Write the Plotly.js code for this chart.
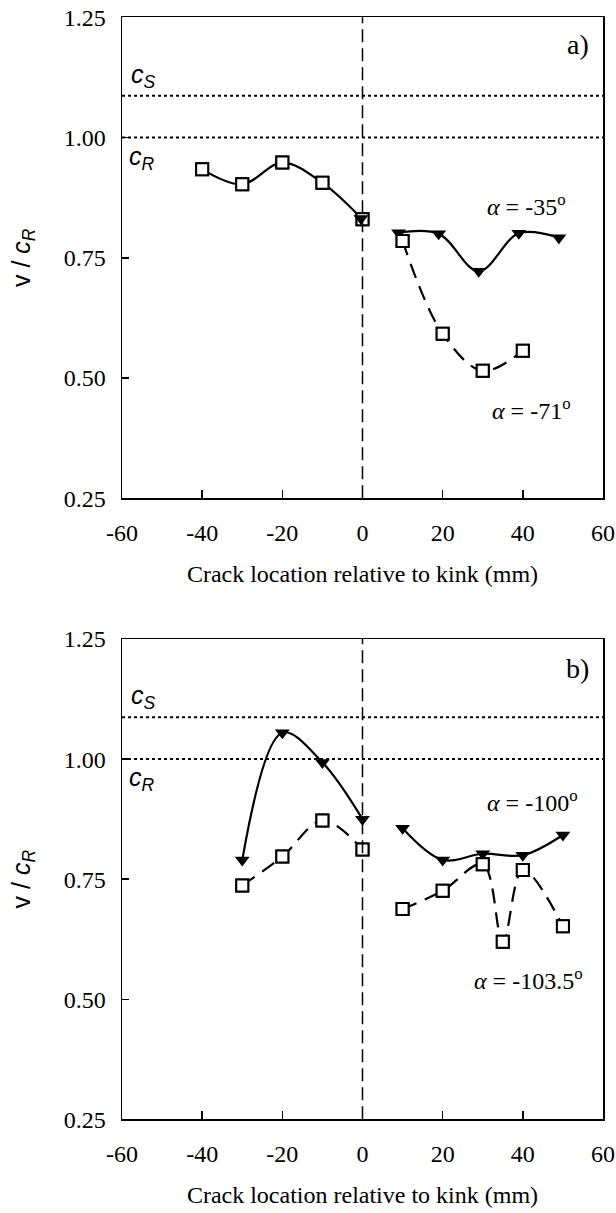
<!DOCTYPE html>
<html>
<head>
<meta charset="utf-8">
<script src="https://cdn.plot.ly/plotly-3.0.1.min.js"></script>
<style>html,body{margin:0;padding:0;background:#fff;}#chart{width:616px;height:1213px;}</style>
</head>
<body>
<div id="chart"></div>
<script>
// ---- Panel a) ----
const aLeftX = [-40, -30, -20, -10, 0];
const aLeftY = [0.934, 0.903, 0.948, 0.906, 0.830];
const a71X = [10, 20, 30, 40];
const a71Y = [0.785, 0.592, 0.515, 0.557];
const a35X = [9, 19, 29, 39, 49];
const a35Y = [0.802, 0.800, 0.722, 0.801, 0.792];
const aKinkTriX = [-0.4];
const aKinkTriY = [0.832];

// ---- Panel b) ----
const bTriLeftX = [-30, -20, -10, 0];
const bTriLeftY = [0.790, 1.055, 0.993, 0.875];
const b100X = [10, 20, 30, 40, 50];
const b100Y = [0.856, 0.790, 0.803, 0.800, 0.842];
const bSqLeftX = [-30, -20, -10, 0];
const bSqLeftY = [0.737, 0.797, 0.872, 0.812];
const b1035X = [10, 20, 30, 35, 40, 50];
const b1035Y = [0.688, 0.726, 0.781, 0.620, 0.769, 0.652];

// reference speed levels
const levelVals = [1.087, 1.0];
const levelLabels = ['<i>c<sub>S</sub></i>', '<i>c<sub>R</sub></i>'];

const xTickVals = [-60, -40, -20, 0, 20, 40, 60];
const xTickText = ['-60', '-40', '-20', '0', '20', '40', '60'];
const yTickVals = [0.25, 0.50, 0.75, 1.00, 1.25];
const yTickText = ['0.25', '0.50', '0.75', '1.00', '1.25'];

const serif = 'Liberation Serif, Times New Roman, serif';
const sans = 'Liberation Sans, Arial, sans-serif';

function sq(x, y, xa, ya, dash) {
  return {x: x, y: y, xaxis: xa, yaxis: ya, type: 'scatter', mode: 'lines+markers',
    line: {color: '#000', width: 2.2, shape: 'spline', smoothing: 1, dash: dash},
    marker: {symbol: 'square-open', size: 12, color: '#000', line: {width: 2, color: '#000'}},
    showlegend: false, hoverinfo: 'skip'};
}
function sqFill(x, y, xa, ya) {
  return {x: x, y: y, xaxis: xa, yaxis: ya, type: 'scatter', mode: 'markers',
    marker: {symbol: 'square', size: 12, color: '#fff', line: {width: 2, color: '#000'}},
    showlegend: false, hoverinfo: 'skip'};
}
function tri(x, y, xa, ya, mode) {
  return {x: x, y: y, xaxis: xa, yaxis: ya, type: 'scatter', mode: mode || 'lines+markers',
    line: {color: '#000', width: 2.2, shape: 'spline', smoothing: 1},
    marker: {symbol: 'triangle-down', size: 13, color: '#000'},
    showlegend: false, hoverinfo: 'skip'};
}

const data = [
  // panel a
  tri(a35X, a35Y, 'x', 'y'),
  sq(aLeftX, aLeftY, 'x', 'y', 'solid'), sqFill(aLeftX, aLeftY, 'x', 'y'),
  sq(a71X, a71Y, 'x', 'y', '15px,9px'), sqFill(a71X, a71Y, 'x', 'y'),
  tri(aKinkTriX, aKinkTriY, 'x', 'y', 'markers'),
  // panel b
  tri(bTriLeftX, bTriLeftY, 'x2', 'y2'),
  tri(b100X, b100Y, 'x2', 'y2'),
  sq(bSqLeftX, bSqLeftY, 'x2', 'y2', '15px,9px'), sqFill(bSqLeftX, bSqLeftY, 'x2', 'y2'),
  sq(b1035X, b1035Y, 'x2', 'y2', '15px,9px'), sqFill(b1035X, b1035Y, 'x2', 'y2')
];

function xAxis(anchor) {
  return {anchor: anchor, domain: [0, 1], range: [-60, 60], tickvals: xTickVals, ticktext: xTickText,
    ticks: 'inside', ticklen: 8, tickwidth: 1.5, tickcolor: '#000',
    showline: true, linewidth: 1.5, linecolor: '#000', mirror: true,
    showgrid: false, zeroline: false,
    tickfont: {family: serif, size: 24, color: '#000'}, ticklabelstandoff: 12,
    title: {text: 'Crack location relative to kink (mm)', font: {family: serif, size: 24, color: '#000'}, standoff: 20}};
}
function yAxis(anchor, domain) {
  return {anchor: anchor, domain: domain, range: [0.25, 1.25], tickvals: yTickVals, ticktext: yTickText,
    ticks: 'inside', ticklen: 7, tickwidth: 1.5, tickcolor: '#000',
    showline: true, linewidth: 1.5, linecolor: '#000', mirror: true,
    showgrid: false, zeroline: false,
    tickfont: {family: serif, size: 24, color: '#000'}, ticklabelstandoff: 10,
    title: {text: 'v / <i>c<sub>R</sub></i>', font: {family: sans, size: 25, color: '#000'}, standoff: 26}};
}

const shapes = [];
[['x', 'y'], ['x2', 'y2']].forEach(([xa, ya]) => {
  levelVals.forEach(v => shapes.push({type: 'line', xref: xa + ' domain', yref: ya,
    x0: 0, x1: 1, y0: v, y1: v, line: {color: '#000', width: 2, dash: 'dot'}}));
  shapes.push({type: 'line', xref: xa, yref: ya + ' domain', x0: 0, x1: 0, y0: 0, y1: 1,
    line: {color: '#000', width: 1.5, dash: '13px,6px'}});
});

const annotations = [];
[['x', 'y'], ['x2', 'y2']].forEach(([xa, ya]) => {
  annotations.push({xref: xa, yref: ya, x: -58.2, y: levelVals[0], xanchor: 'left', yanchor: 'bottom',
    yshift: 2, text: levelLabels[0], showarrow: false, font: {family: sans, size: 25, color: '#000'}});
  annotations.push({xref: xa, yref: ya, x: -58.8, y: levelVals[1], xanchor: 'left', yanchor: 'top',
    yshift: -2, text: levelLabels[1], showarrow: false, font: {family: sans, size: 25, color: '#000'}});
});
const afont = {family: serif, size: 24, color: '#000'};
annotations.push(
  {xref: 'x domain', yref: 'y domain', x: 0.975, y: 0.944, xanchor: 'right', yanchor: 'middle', text: 'a)', showarrow: false, font: {family: serif, size: 28, color: '#000'}},
  {xref: 'x domain', yref: 'y domain', x: 0.754, y: 0.61, xanchor: 'left', yanchor: 'middle', text: '<i>α</i> = -35<sup>o</sup>', showarrow: false, font: afont},
  {xref: 'x domain', yref: 'y domain', x: 0.766, y: 0.186, xanchor: 'left', yanchor: 'middle', text: '<i>α</i> = -71<sup>o</sup>', showarrow: false, font: afont},
  {xref: 'x2 domain', yref: 'y2 domain', x: 0.975, y: 0.938, xanchor: 'right', yanchor: 'middle', text: 'b)', showarrow: false, font: {family: serif, size: 28, color: '#000'}},
  {xref: 'x2 domain', yref: 'y2 domain', x: 0.754, y: 0.662, xanchor: 'left', yanchor: 'middle', text: '<i>α</i> = -100<sup>o</sup>', showarrow: false, font: afont},
  {xref: 'x2 domain', yref: 'y2 domain', x: 0.728, y: 0.292, xanchor: 'left', yanchor: 'middle', text: '<i>α</i> = -103.5<sup>o</sup>', showarrow: false, font: afont}
);

const layout = {
  width: 616, height: 1213,
  margin: {l: 122, r: 13, t: 0, b: 0},
  paper_bgcolor: '#fff', plot_bgcolor: '#fff',
  xaxis: xAxis('y'), yaxis: yAxis('x', [0.5892, 0.9857]),
  xaxis2: xAxis('y2'), yaxis2: yAxis('x2', [0.0772, 0.4732]),
  shapes: shapes, annotations: annotations, showlegend: false
};

Plotly.newPlot('chart', data, layout, {staticPlot: true, displayModeBar: false});
</script>
</body>
</html>
